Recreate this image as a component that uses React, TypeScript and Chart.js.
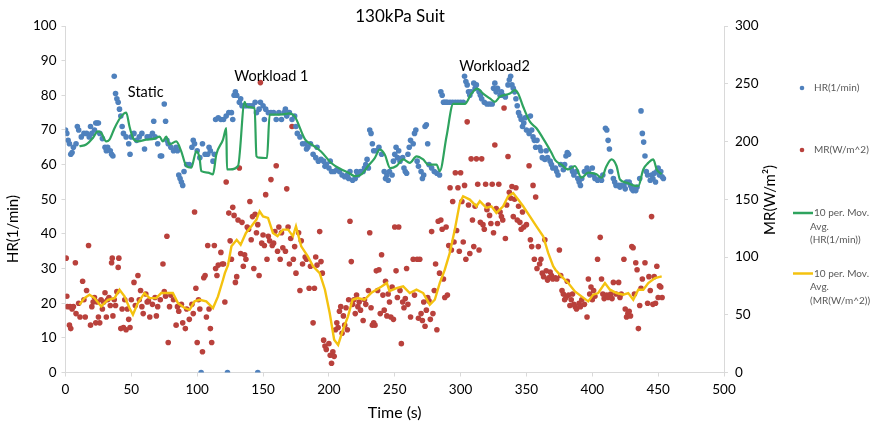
import { useEffect, useRef } from "react";
import { Chart, registerables } from "chart.js";

Chart.register(...registerables);

const FONT = "Lato, 'Open Sans', sans-serif";

// Heart rate samples: time (s) and HR (1/min)
const hrTime = [
  0, 1, 2, 3, 4, 5, 6, 8, 9, 10,
  12, 14, 16, 18, 19, 20, 22, 23, 24, 25,
  26, 28, 30, 31, 32, 34, 35, 36, 37, 38,
  39, 40, 41, 42, 43, 44, 46, 48, 49, 50,
  52, 54, 56, 58, 60, 62, 64, 66, 67, 68,
  70, 72, 73, 75, 76, 77, 78, 80, 82, 84,
  85, 86, 87, 88, 89, 90, 92, 94, 96, 97,
  98, 100, 102, 103, 104, 106, 108, 109, 110, 112,
  113, 114, 116, 118, 120, 122, 123, 124, 126, 127,
  128, 129, 130, 132, 133, 134, 136, 138, 140, 142,
  144, 145, 146, 147, 148, 150, 151, 152, 154, 156,
  158, 160, 162, 164, 166, 167, 168, 170, 172, 174,
  175, 176, 178, 180, 182, 183, 184, 186, 188, 190,
  191, 192, 194, 196, 197, 198, 200, 201, 202, 204,
  206, 208, 210, 212, 214, 215, 216, 218, 220, 221,
  222, 224, 226, 227, 228, 229, 230, 231, 232, 233,
  234, 236, 238, 240, 242, 243, 244, 245, 246, 248,
  249, 250, 251, 252, 253, 254, 256, 257, 258, 259,
  260, 261, 262, 264, 265, 266, 267, 268, 270, 271,
  272, 273, 274, 275, 276, 278, 280, 282, 284, 285,
  286, 287, 288, 289, 290, 292, 294, 296, 298, 300,
  302, 303, 304, 305, 306, 307, 308, 310, 311, 312,
  314, 315, 316, 318, 320, 322, 324, 325, 326, 327,
  328, 330, 331, 332, 334, 336, 337, 338, 339, 340,
  341, 342, 343, 344, 345, 346, 347, 348, 349, 350,
  352, 353, 354, 355, 356, 357, 358, 360, 361, 362,
  364, 365, 366, 368, 369, 370, 372, 373, 374, 376,
  378, 379, 380, 381, 382, 384, 385, 386, 388, 389,
  390, 391, 392, 394, 396, 397, 398, 400, 401, 402,
  404, 406, 407, 408, 410, 411, 412, 413, 414, 416,
  417, 418, 420, 421, 422, 424, 425, 426, 428, 429,
  430, 431, 432, 433, 434, 436, 437, 438, 439, 440,
  441, 442, 444, 445, 446, 447, 448, 449, 450, 451,
  452, 453, 454,
];
const hrValue = [
  70, 69, 67, 66, 63, 63.5, 65, 66, 71, 70,
  68, 69, 69, 68, 71, 69, 70, 72, 72, 72,
  69, 67.5, 65, 64, 65, 64, 63, 62.5, 85.5, 80.5,
  79, 78, 76, 74, 71, 69, 68, 66, 63, 68,
  69, 67, 68, 69, 64.5, 68, 68, 69, 72.5, 68,
  66, 62.5, 62.5, 77.5, 72.5, 67, 66, 65, 64, 65,
  64, 57, 56, 55, 54, 58, 60, 60, 65, 67,
  66, 64, 62, 0, 66, 63, 63, 65, 64, 61,
  63, 73, 73.5, 73, 73, 74, 0, 75, 75, 73,
  80, 81, 80, 78, 79, 77, 77, 77, 77, 77,
  78, 75, 0, 76, 78, 77, 73, 76, 75, 75,
  75, 73, 75, 73, 75, 76, 74, 75, 73, 74,
  71, 69, 68, 66, 66, 64.5, 65, 66, 63, 62,
  65, 61, 61.5, 61, 59.5, 60, 59, 61, 58, 58,
  58.5, 58, 57, 56.5, 57, 56, 58, 55.5, 56, 58,
  57, 58, 58, 59, 60, 61.5, 59, 70, 69, 66,
  64, 64, 65, 63, 58, 56, 57, 55.5, 58, 57,
  61, 63, 65, 62, 64, 61, 62, 59, 58, 57.5,
  63, 65, 67, 66, 69, 70, 61, 59.5, 58, 56,
  57, 71, 71.5, 66, 60, 59, 58, 57.5, 57, 81,
  80, 78, 78, 78, 78, 78, 78, 78, 78, 78,
  78, 85.5, 84, 83, 81, 80, 81, 83.5, 82, 83,
  81, 80, 79, 78, 77.5, 77.5, 77.5, 82, 83.5, 81,
  82, 80, 81, 80, 79.5, 83, 84.5, 85.5, 83, 82,
  81, 79, 77, 75, 74, 73, 71, 72, 73.5, 70,
  69, 74, 70, 68, 67, 65, 67, 65, 64, 62,
  61.5, 64, 62, 61, 60, 59, 59, 58, 57, 60,
  58.5, 60, 62.5, 63.5, 63, 59, 58, 57, 58, 56,
  55, 54, 56, 58, 59, 58, 57, 59, 57, 56,
  55.5, 56, 55.5, 57, 70.5, 70, 67, 64.5, 58, 56,
  55, 54, 54, 53.5, 54, 54, 53, 55, 55, 54,
  53, 52.5, 53, 52.5, 53.5, 56, 75.5, 69, 66.5, 62.5,
  58, 57, 55.5, 57, 56, 57.5, 55, 58, 59, 57,
  58, 56.5, 56,
];

// Metabolic rate samples: time (s) and MR (W/m^2)
const mrTime = [
  0.5, 1, 1.5, 3, 3.5, 4, 5, 6, 7.5, 8,
  10, 11, 13, 14, 15, 16, 17.5, 19, 20, 21,
  22, 23, 24, 25, 26, 27, 28, 29, 30, 31,
  32, 33, 34, 35, 35.5, 36, 37, 38, 39, 40,
  40.5, 42, 43, 44, 45, 46, 47, 48, 49, 50,
  52, 53, 55, 56, 57, 58, 59, 61, 62, 63,
  64, 66, 68, 69, 70, 72, 74, 75, 76, 77,
  78, 79, 80, 82, 84, 85, 86, 88, 89, 91,
  92, 94, 96, 97, 98, 99, 100, 101, 102, 104,
  105, 106, 107, 108, 109, 110, 111, 113, 114, 115,
  116, 118, 119, 120, 121, 122, 124, 125, 126, 127,
  128, 129, 130, 131, 132, 133, 134, 135, 136, 137,
  138, 139, 140, 141, 142, 143, 144, 145, 146, 147,
  148, 149, 150, 151, 152, 153, 154, 155, 156, 157,
  158, 159, 160, 161, 162, 163, 164, 165, 167, 168,
  169, 170, 171, 172, 173, 174, 175, 177, 178, 179,
  180, 182, 183, 185, 186, 188, 189, 190, 191, 193,
  194, 195, 196, 197, 198, 200, 201, 202, 203, 204,
  205, 206, 207, 208, 209, 210, 211, 212, 213, 214,
  215, 216, 217, 218, 219, 220, 221, 222, 223, 224,
  226, 227, 228, 230, 231, 232, 233, 234, 235, 236,
  237, 238, 239, 240, 241, 242, 243, 244, 245, 246,
  247, 248, 249, 250, 251, 252, 253, 254, 255, 256,
  257, 258, 259, 260, 262, 264, 265, 267, 268, 269,
  270, 271, 272, 273, 274, 275, 276, 277, 278, 279,
  280, 281, 282, 283, 284, 285, 286, 287, 288, 289,
  290, 291, 292, 293, 294, 295, 296, 297, 298, 299,
  300, 301, 302, 303, 304, 305, 306, 307, 308, 309,
  310, 311, 312, 313, 314, 315, 316, 317, 318, 319,
  320, 321, 322, 323, 324, 325, 326, 327, 328, 329,
  330, 331, 332, 333, 334, 335, 336, 337, 338, 339,
  340, 341, 342, 343, 344, 345, 346, 347, 348, 350,
  352, 353, 354, 355, 356, 357, 358, 359, 360, 361,
  362, 363, 364, 365, 366, 367, 368, 369, 370, 372,
  373, 375, 376, 377, 378, 379, 380, 381, 382, 383,
  384, 385, 386, 387, 388, 390, 391, 392, 394, 396,
  397, 398, 399, 400, 401, 402, 404, 406, 407, 408,
  409, 410, 411, 412, 414, 415, 416, 418, 420, 421,
  422, 424, 425, 426, 427, 428, 429, 430, 431, 432,
  433, 434, 435, 436, 437, 438, 440, 442, 443, 444,
  445, 446, 447, 448, 449, 450, 451, 452, 453,
];
const mrValue = [
  99, 66, 57, 41, 57, 38, 55, 57, 95, 51,
  60, 48, 79, 63, 48, 71, 110, 41, 57, 61,
  65, 43, 61, 48, 43, 63, 55, 61, 69, 48,
  63, 65, 58, 95, 99, 49, 63, 58, 70, 91,
  99, 38, 55, 39, 63, 37, 55, 46, 39, 63,
  78, 58, 84, 63, 71, 57, 51, 68, 61, 62,
  48, 59, 65, 49, 57, 63, 94, 70, 66, 118,
  26, 57, 67, 63, 41, 57, 53, 59, 43, 38,
  55, 46, 59, 51, 139, 73, 26, 63, 55, 18,
  82, 84, 48, 110, 55, 38, 26, 110, 90, 84,
  93, 104, 94, 94, 61, 165, 138, 114, 98, 143,
  136, 78, 83, 132, 177, 103, 130, 92, 102, 98,
  126, 124, 148, 115, 135, 90, 137, 121, 128, 84,
  251, 112, 119, 110, 154, 98, 118, 114, 167, 110,
  112, 122, 179, 105, 126, 98, 121, 108, 105, 159,
  126, 94, 116, 213, 98, 109, 86, 121, 71, 114,
  94, 100, 98, 73, 92, 43, 73, 100, 93, 122,
  96, 86, 28, 23, 20, 25, 15, 8, 18, 14,
  37, 43, 39, 53, 57, 34, 49, 41, 56, 37,
  63, 131, 96, 59, 63, 51, 67, 57, 61, 54,
  45, 63, 59, 71, 121, 56, 41, 43, 41, 88,
  71, 89, 51, 102, 67, 54, 79, 49, 68, 61,
  48, 74, 46, 126, 88, 65, 126, 71, 25, 61,
  56, 64, 90, 59, 48, 98, 67, 98, 47, 98,
  51, 45, 61, 40, 54, 65, 62, 46, 122, 51,
  71, 94, 37, 131, 86, 132, 124, 81, 65, 126,
  67, 110, 160, 106, 148, 113, 173, 123, 160, 105,
  173, 148, 113, 162, 98, 217, 145, 103, 185, 132,
  109, 144, 185, 163, 106, 130, 185, 128, 124, 163,
  141, 145, 136, 129, 163, 121, 197, 142, 129, 163,
  139, 135, 132, 229, 116, 145, 187, 156, 151, 161,
  135, 150, 160, 132, 144, 130, 124, 139, 126, 128,
  179, 115, 109, 162, 98, 152, 90, 109, 94, 98,
  86, 83, 115, 88, 80, 82, 87, 84, 81, 82,
  81, 106, 84, 71, 68, 63, 65, 79, 67, 58,
  63, 68, 59, 57, 55, 60, 57, 63, 59, 48,
  81, 68, 74, 63, 71, 66, 98, 117, 81, 68,
  64, 66, 67, 65, 68, 64, 78, 68, 78, 65,
  68, 98, 55, 48, 51, 53, 49, 109, 108, 68,
  95, 89, 38, 58, 73, 81, 95, 60, 83, 71,
  135, 59, 83, 60, 92, 65, 75, 74, 65,
];

// 10-period moving average of HR, as plotted
const hrAvgTime = [
  10.6, 15.7, 20.8, 24.6, 27.2, 30.9, 33.4, 37.2, 42.3, 46.1,
  48.6, 51.2, 54.9, 61.3, 67.6, 71.4, 73.9, 76.5, 79, 84.1,
  87.9, 91.7, 95.5, 99.3, 101.8, 103.1, 108.2, 112, 114.5, 119.6,
  122.1, 122.6, 125, 131, 136, 137.5, 143.6, 145, 147, 153,
  155, 157, 165, 170, 174, 182, 187, 194, 202, 209.5,
  214.5, 219.6, 224.7, 229.8, 234.8, 238.6, 242.4, 246.5, 251.3, 256.4,
  261.4, 266.5, 271.6, 275.4, 281.7, 284.2, 289.3, 294.4, 303.2, 308.3,
  312.6, 317.1, 322.2, 326, 329.8, 337.4, 341.2, 343.7, 347.5, 352.6,
  357.6, 364, 369, 372, 376.6, 381.7, 386.8, 391.8, 396.9, 403.2,
  407, 410.8, 414.6, 418.4, 421, 426, 431.1, 434.9, 438.7, 442.5,
  446.3, 448.9, 452.7,
];
const hrAvgValue = [
  65.3, 65.8, 67.7, 69.6, 69.1, 66.7, 67.2, 70.5, 73.9, 75.0,
  71.0, 67.7, 66.7, 67.2, 67.5, 68.1, 66.7, 68.1, 65.8, 66.7,
  63.8, 59.6, 59.1, 63.8, 61.9, 58.1, 57.7, 57.2, 62.9, 67.2,
  70.5, 58.6, 58.6, 59.6, 78.1, 76.7, 76.3, 62.4, 62, 61.9,
  74.4, 74.4, 74.5, 74.8, 73.9, 67.2, 65.8, 63.8, 60.4, 58.6,
  57.7, 56.7, 57.2, 59.6, 61.9, 64.3, 62.9, 59, 59.6, 61.5,
  60.5, 62.4, 61.5, 60.0, 60.0, 58.1, 68.1, 77.5, 77.5, 80.5,
  81.9, 80.5, 79.1, 78.1, 79.6, 80.5, 81.5, 80.5, 76.7, 72.4,
  70.5, 66.7, 63.4, 61.2, 60.0, 58.6, 59.6, 56.2, 57.7, 57.2,
  56.2, 59.6, 61.5, 59.6, 55.7, 54.8, 54.0, 53.8, 58.6, 60.5,
  61.5, 58.6, 57.2,
];

// 10-period moving average of MR, as plotted
const mrAvgTime = [
  10.6, 14.4, 18.2, 22, 27.1, 32.2, 37.2, 41, 44.8, 48.6,
  51.2, 54.9, 60, 63.8, 68.9, 72.7, 76.5, 81.5, 85.4, 90.4,
  94.2, 98, 101.8, 106.9, 112, 115.8, 119.6, 121, 123.4, 126,
  130, 133, 137, 141, 145, 147.4, 150, 153.8, 157.5, 161,
  165, 169, 172.7, 175, 179, 184, 188, 193, 197, 200.6,
  204, 207, 210.7, 214.5, 218, 222, 227, 232, 236, 240,
  244, 246, 251.3, 256.4, 261.4, 266.5, 271.6, 276.6, 280.4, 284.2,
  288, 291.8, 295.6, 299.4, 301.9, 307, 312, 314.6, 319.6, 323.4,
  327.2, 332.3, 336.1, 339.9, 343.7, 347.5, 352.6, 357.6, 362.7, 366.5,
  370.3, 372, 376.6, 381.7, 386.8, 391.8, 396.9, 400.7, 404.5, 409.6,
  413.4, 418.4, 423.5, 427.3, 431.1, 434.9, 438.7, 442.5, 447.6, 452.7,
];
const mrAvgValue = [
  58.7, 64.4, 67.4, 64.4, 57.2, 63.0, 64.4, 71.7, 65.9, 55.8,
  50.0, 60.1, 68.8, 64.4, 64.4, 68.8, 68.8, 68.8, 60.1, 55.8,
  54.3, 61.6, 63.0, 61.6, 55.8, 65.9, 80.3, 86, 93, 109.2,
  114.9, 110.7, 120.8, 126.5, 132.4, 139.6, 135.1, 133.8, 120.8, 118,
  123.7, 123.7, 118, 126.5, 109.2, 100.5, 91.9, 86.1, 71.7, 51.5,
  28.3, 23.9, 37.0, 48.6, 63.0, 64.4, 63.0, 68.8, 71.7, 74.5,
  77.5, 70.5, 73.1, 74.6, 68.8, 71.7, 68.8, 58.7, 63.0, 77.5,
  89.0, 103.5, 123.7, 146.9, 152.6, 149.7, 143.9, 148.3, 142.5, 143.9,
  138.2, 143.9, 152.6, 155.4, 149.7, 143.9, 135.2, 126.5, 118, 103.5,
  92, 89, 83.2, 77.5, 70.2, 65.9, 61.6, 67.4, 68.8, 77.5,
  71.7, 68.8, 67.4, 68.8, 63.0, 71.7, 71.7, 77.5, 81.8, 83.2,
];

// Phase annotations placed at (time, HR)
const phaseLabels = ["Static", "Workload 1", "Workload2"];
const phaseTime = [60.9, 156.3, 325.8];
const phaseHr = [80.8, 85.6, 88.5];

const BLUE = "#4f81bd";
const RED = "#b9413c";
const GREEN = "#2ea35e";
const GOLD = "#f4c20f";

const toPoints = (xs: number[], ys: number[]) => xs.map((x, i) => ({ x, y: ys[i] }));

const textPlugin = {
  id: "chartText",
  afterDraw(chart: any) {
    const { ctx, scales, chartArea } = chart;
    const sx = scales.x;
    const sy = scales.y;
    ctx.save();
    ctx.fillStyle = "#000";
    ctx.textAlign = "center";
    ctx.textBaseline = "middle";

    ctx.font = `17px ${FONT}`;
    ctx.fillText("130kPa Suit", 400, 16.5);

    ctx.font = `16px ${FONT}`;
    ctx.fillText("Time (s)", (chartArea.left + chartArea.right) / 2, 413);

    ctx.font = `15px ${FONT}`;
    ctx.save();
    ctx.translate(13, 229);
    ctx.rotate(-Math.PI / 2);
    ctx.fillText("HR(1/min)", 0, 0);
    ctx.restore();
    ctx.save();
    ctx.translate(770, 200);
    ctx.rotate(-Math.PI / 2);
    ctx.fillText("MR(W/m\u00b2)", 0, 0);
    ctx.restore();

    ctx.font = `14.5px ${FONT}`;
    phaseLabels.forEach((label, i) => {
      ctx.fillText(label, sx.getPixelForValue(phaseTime[i]), sy.getPixelForValue(phaseHr[i]));
    });

    // legend
    ctx.textAlign = "left";
    ctx.font = `10px ${FONT}`;
    ctx.fillStyle = "#595959";
    const tx = 814;
    ctx.fillText("HR(1/min)", tx, 88);
    ctx.fillText("MR(W/m^2)", tx, 150);
    ["10 per. Mov.", "Avg.", "(HR(1/min))"].forEach((s, i) => ctx.fillText(s, i === 0 ? tx : tx - 4, 213 + i * 13.5));
    ["10 per. Mov.", "Avg.", "(MR(W/m^2))"].forEach((s, i) => ctx.fillText(s, i === 0 ? tx : tx - 4, 273.5 + i * 13.5));

    ctx.fillStyle = BLUE;
    ctx.beginPath();
    ctx.arc(802, 88, 2.3, 0, Math.PI * 2);
    ctx.fill();
    ctx.fillStyle = RED;
    ctx.beginPath();
    ctx.arc(802, 150, 2.3, 0, Math.PI * 2);
    ctx.fill();
    ctx.lineWidth = 2.5;
    ctx.strokeStyle = GREEN;
    ctx.beginPath();
    ctx.moveTo(793, 213);
    ctx.lineTo(813, 213);
    ctx.stroke();
    ctx.strokeStyle = GOLD;
    ctx.beginPath();
    ctx.moveTo(793, 273.5);
    ctx.lineTo(813, 273.5);
    ctx.stroke();
    ctx.restore();
  },
};

export default function App() {
  const canvasRef = useRef<HTMLCanvasElement>(null);

  useEffect(() => {
    document.body.style.margin = "0";
    const tickFont = { family: FONT, size: 13.5 };
    const axisGrid = { display: true, drawOnChartArea: false, drawTicks: true, tickLength: 4, color: "#d9d9d9" };
    const chart = new Chart(canvasRef.current!, {
      type: "scatter",
      data: {
        datasets: [
          {
            type: "line",
            label: "10 per. Mov. Avg. (HR(1/min))",
            data: toPoints(hrAvgTime, hrAvgValue),
            borderColor: GREEN,
            borderWidth: 2.2,
            pointRadius: 0,
            cubicInterpolationMode: "monotone",
            yAxisID: "y",
            order: 0,
          },
          {
            type: "line",
            label: "10 per. Mov. Avg. (MR(W/m^2))",
            data: toPoints(mrAvgTime, mrAvgValue),
            borderColor: GOLD,
            borderWidth: 2.4,
            pointRadius: 0,
            yAxisID: "y1",
            order: 0,
          },
          {
            label: "HR(1/min)",
            data: toPoints(hrTime, hrValue),
            backgroundColor: BLUE,
            borderWidth: 0,
            pointRadius: 2.8,
            yAxisID: "y",
            order: 1,
          },
          {
            label: "MR(W/m^2)",
            data: toPoints(mrTime, mrValue),
            backgroundColor: RED,
            borderWidth: 0,
            pointRadius: 2.8,
            yAxisID: "y1",
            order: 1,
          },
        ],
      },
      options: {
        responsive: false,
        animation: false,
        devicePixelRatio: 1,
        layout: { padding: { top: 26, right: 96, bottom: 0, left: 0 } },
        plugins: { legend: { display: false }, tooltip: { enabled: false }, title: { display: false } },
        scales: {
          x: {
            type: "linear",
            min: 0,
            max: 500,
            ticks: { stepSize: 50, font: tickFont, color: "#000", padding: 5 },
            grid: axisGrid,
            border: { color: "#d9d9d9" },
            afterFit: (s: any) => {
              s.height = 51.5;
            },
          },
          y: {
            position: "left",
            min: 0,
            max: 100,
            ticks: { stepSize: 10, font: tickFont, color: "#000", padding: 5 },
            grid: axisGrid,
            border: { color: "#d9d9d9" },
            afterFit: (s: any) => {
              s.width = 65.5;
            },
          },
          y1: {
            position: "right",
            min: 0,
            max: 300,
            ticks: { stepSize: 50, font: tickFont, color: "#000", padding: 7 },
            grid: axisGrid,
            border: { color: "#d9d9d9" },
            afterFit: (s: any) => {
              s.width = 60;
            },
          },
        },
      } as any,
      plugins: [textPlugin],
    });
    return () => chart.destroy();
  }, []);

  return <canvas ref={canvasRef} width={880} height={424} style={{ display: "block" }} />;
}
